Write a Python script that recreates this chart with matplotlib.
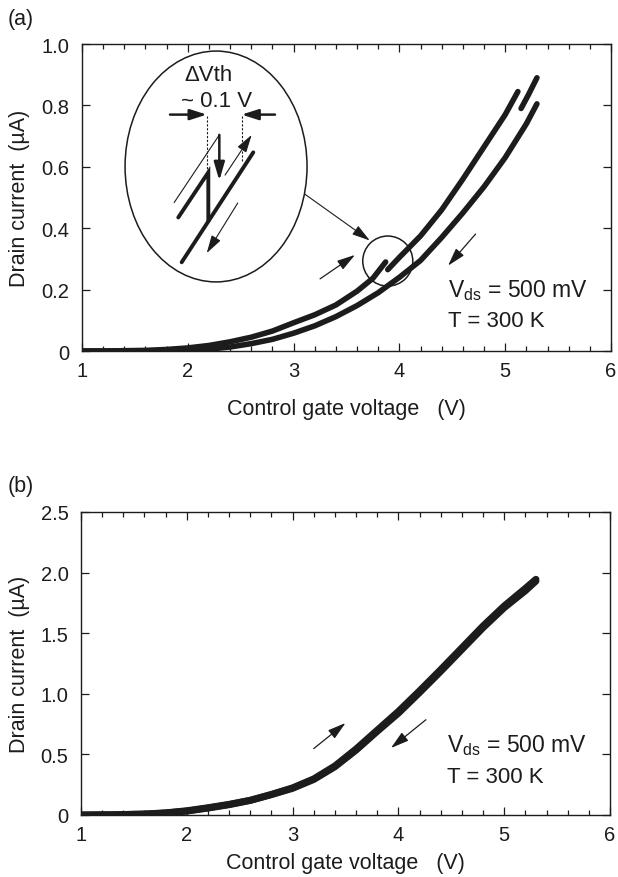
import numpy as np
import matplotlib.pyplot as plt
from matplotlib.patches import Ellipse

plt.rcParams['font.family'] = ['Liberation Sans', 'DejaVu Sans']
plt.rcParams['mathtext.fontset'] = 'custom'
plt.rcParams['mathtext.rm'] = 'Liberation Sans'
plt.rcParams['mathtext.it'] = 'Liberation Sans:italic'

ink = '#1c1c1c'

#(a) up sweep before the jump, after the jump, after the second jump
a_up1_v = [1.0, 1.2, 1.4, 1.6, 1.8, 2.0, 2.2, 2.4, 2.6, 2.8, 3.0, 3.2, 3.4, 3.6, 3.75, 3.87]
a_up1_i = [0.0, 0.0, 0.001, 0.002, 0.005, 0.010, 0.018, 0.030, 0.045, 0.065, 0.092, 0.118, 0.150, 0.195, 0.237, 0.290]
a_up2_v = [3.89, 4.0, 4.2, 4.4, 4.6, 4.8, 5.0, 5.12]
a_up2_i = [0.265, 0.305, 0.375, 0.460, 0.560, 0.665, 0.770, 0.845]
a_up3_v = [5.15, 5.22, 5.30]
a_up3_i = [0.790, 0.835, 0.890]
#(a) down sweep
a_dn_v = [5.30, 5.2, 5.0, 4.8, 4.6, 4.4, 4.2, 4.0, 3.8, 3.6, 3.4, 3.2, 3.0, 2.8, 2.6, 2.4, 2.2, 2.0, 1.8, 1.5, 1.0]
a_dn_i = [0.805, 0.740, 0.630, 0.535, 0.450, 0.370, 0.295, 0.240, 0.190, 0.148, 0.112, 0.082, 0.058, 0.038, 0.024, 0.013, 0.006, 0.002, 0.001, 0.0, 0.0]

#(b) up and down sweeps
b_v = [1.0, 1.3, 1.6, 1.8, 2.0, 2.2, 2.4, 2.6, 2.8, 3.0, 3.2, 3.4, 3.6, 3.8, 4.0, 4.2, 4.4, 4.6, 4.8, 5.0, 5.2, 5.3]
b_up_i = [0.0, 0.002, 0.008, 0.018, 0.035, 0.060, 0.088, 0.122, 0.170, 0.224, 0.298, 0.405, 0.545, 0.700, 0.855, 1.025, 1.200, 1.380, 1.560, 1.725, 1.870, 1.945]
b_dn_i = [0.0, 0.002, 0.007, 0.016, 0.032, 0.057, 0.085, 0.120, 0.168, 0.220, 0.293, 0.398, 0.535, 0.690, 0.840, 1.010, 1.185, 1.365, 1.545, 1.710, 1.850, 1.930]

a_yticks = [0, 0.2, 0.4, 0.6, 0.8, 1.0]
a_ylabels = ['0', '0.2', '0.4', '0.6', '0.8', '1.0']
b_yticks = [0, 0.5, 1.0, 1.5, 2.0, 2.5]
b_ylabels = ['0', '0.5', '1.0', '1.5', '2.0', '2.5']
xticks = [1, 2, 3, 4, 5, 6]

fig = plt.figure(figsize=(6.18, 8.78), dpi=100)
axa = fig.add_axes([82/618, 1-352/878, 529/618, 307/878])
axb = fig.add_axes([81/618, 1-816/878, 529/618, 303/878])


def style(ax, yt, yl, xpad):
    ax.set_xlim(1, 6)
    ax.set_ylim(yt[0], yt[-1])
    ax.set_xticks(xticks)
    ax.set_xticks(np.arange(1, 6.001, 0.2), minor=True)
    ax.set_yticks(yt)
    ax.set_yticklabels(yl)
    ax.tick_params(which='both', direction='in', top=True, right=True,
                   colors=ink, labelsize=14.5, width=0.9)
    ax.tick_params(which='major', length=5.8)
    ax.tick_params(which='minor', length=3.4)
    ax.tick_params(axis='x', pad=7)
    ax.tick_params(axis='y', pad=9)
    for s in ax.spines.values():
        s.set_linewidth(1.0)
        s.set_color(ink)
    ax.set_xlabel('Control gate voltage   (V)', fontsize=15.5, color=ink, labelpad=xpad)
    ax.set_ylabel('Drain current  (\u00b5A)', fontsize=15.5, color=ink, labelpad=8)


def arrow(ax, p0, p1, lw=0.9, hl=1.1, hw=0.32):
    ax.annotate('', xy=p1, xytext=p0,
                arrowprops=dict(arrowstyle='-|>,head_length=%g,head_width=%g' % (hl, hw),
                                lw=lw, color=ink, shrinkA=0, shrinkB=0,
                                mutation_scale=10))


style(axa, a_yticks, a_ylabels, 13)
style(axb, b_yticks, b_ylabels, 6)

#curves
kw = dict(color=ink, lw=4.0, solid_capstyle='round', solid_joinstyle='round')
axa.plot(a_up1_v, a_up1_i, **kw)
axa.plot(a_up2_v, a_up2_i, **kw)
axa.plot(a_up3_v, a_up3_i, **kw)
axa.plot(a_dn_v, a_dn_i, **kw)

kwb = dict(color=ink, lw=5.0, solid_capstyle='round', solid_joinstyle='round')
axb.plot(b_v, b_up_i, **kwb)
axb.plot(b_v, b_dn_i, **kwb)

#sweep arrows
arrow(axa, (3.25, 0.235), (3.58, 0.313))
arrow(axa, (4.72, 0.381), (4.46, 0.278))
arrow(axb, (3.20, 0.548), (3.50, 0.759))
arrow(axb, (4.26, 0.786), (3.93, 0.553))

#conditions
for ax, y1, y2 in [(axa, 0.179, 0.081), (axb, 0.528, 0.272)]:
    ax.text(4.46, y1, r'V$_{\mathrm{ds}}$ = 500 mV', fontsize=16.5, color=ink, va='baseline')
    ax.text(4.46, y2, 'T = 300 K', fontsize=16, color=ink, va='baseline')

#zoom circle and inset
axa.add_patch(Ellipse((3.89, 0.293), 0.473, 0.163, fill=False, lw=1.1, ec=ink, zorder=3))
axa.add_patch(Ellipse((2.267, 0.601), 1.72, 0.752, fill=False, lw=1.1, ec=ink, zorder=3))
arrow(axa, (3.11, 0.51), (3.72, 0.36), lw=0.8, hl=1.1, hw=0.32)

axa.text(2.193, 0.902, '\u0394Vth', fontsize=16, color=ink, ha='center', va='center')
axa.text(2.273, 0.815, '~ 0.1 V', fontsize=16, color=ink, ha='center', va='center')
arrow(axa, (1.832, 0.770), (2.179, 0.770), lw=1.8, hl=1.0, hw=0.32)
arrow(axa, (2.824, 0.770), (2.509, 0.770), lw=1.8, hl=1.0, hw=0.32)
axa.plot([2.184, 2.184], [0.766, 0.587], color=ink, lw=0.8, ls=(0, (2, 1.5)))
axa.plot([2.515, 2.515], [0.766, 0.615], color=ink, lw=0.8, ls=(0, (2, 1.5)))

zk = dict(color=ink, lw=2.8, solid_capstyle='round', solid_joinstyle='miter')
axa.plot([1.910, 2.194, 2.194], [0.435, 0.582, 0.4225], **zk)
axa.plot([1.942, 2.619], [0.289, 0.647], **zk)
axa.plot([1.872, 2.298], [0.484, 0.704], color=ink, lw=0.8)
arrow(axa, (2.298, 0.704), (2.298, 0.555), lw=1.8, hl=1.1, hw=0.32)
arrow(axa, (2.352, 0.573), (2.604, 0.704), lw=0.8, hl=1.1, hw=0.32)
arrow(axa, (2.472, 0.482), (2.179, 0.319), lw=0.8, hl=1.1, hw=0.32)

#panel labels
fig.text(8/618, 1-20/878, '(a)', fontsize=15.5, color=ink, va='center')
fig.text(8/618, 1-487/878, '(b)', fontsize=15.5, color=ink, va='center')

plt.savefig('out.png', dpi=100)
